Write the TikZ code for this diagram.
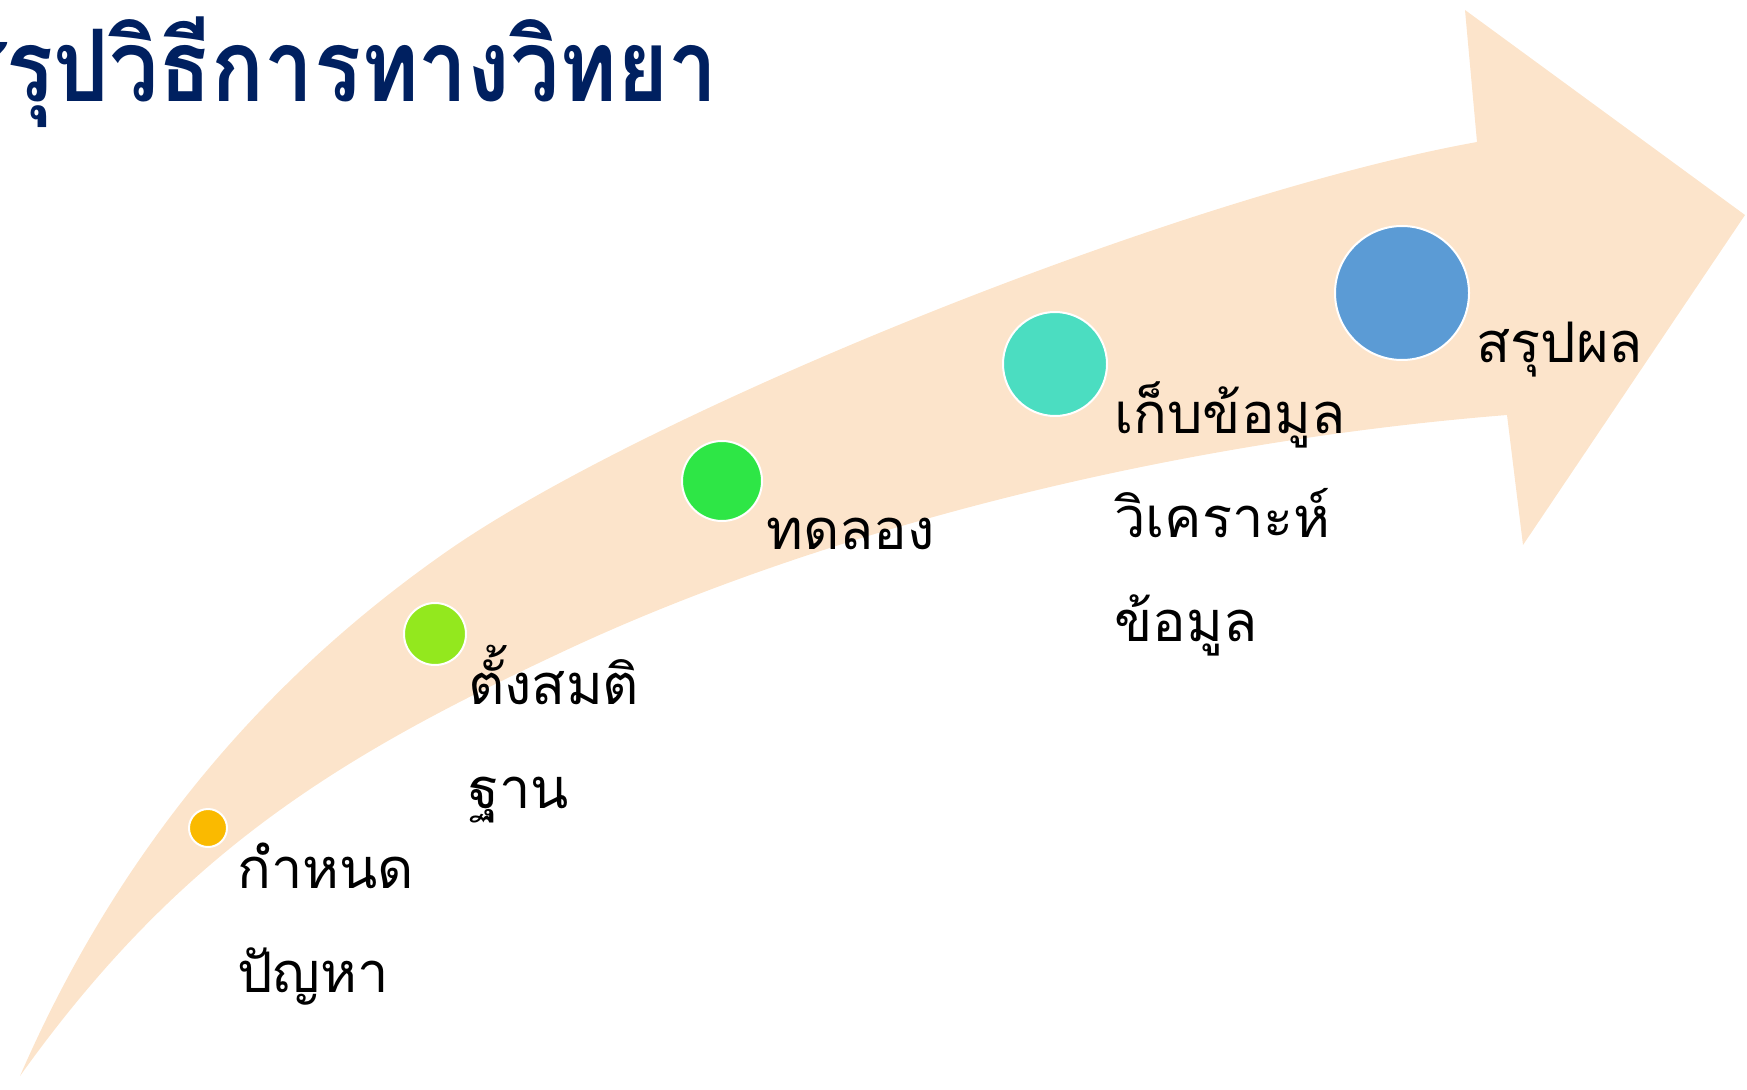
\documentclass[tikz,border=0pt]{standalone}
\usepackage{fontspec}
\newfontfamily\thai[Script=Thai]{Loma}
\definecolor{bandc}{RGB}{252,228,203}
\definecolor{cyel}{RGB}{250,186,0}
\definecolor{clime}{RGB}{147,232,30}
\definecolor{cgrn}{RGB}{46,230,70}
\definecolor{cteal}{RGB}{75,221,193}
\definecolor{cblue}{RGB}{91,155,213}
\definecolor{navy}{RGB}{0,32,96}
\begin{document}
\begin{tikzpicture}[x=1pt,y=-1pt,
  dot/.style={circle, draw=white, line width=2pt, inner sep=0pt, minimum size=#1},
  lbl/.style={font=\thai\fontsize{56}{104}\selectfont, anchor=base west, align=left, inner sep=0pt, text=black},
]
\useasboundingbox (0,0) rectangle (1747,1089);
\clip (0,0) rectangle (1747,1089);
\fill[bandc] (20,1076) .. controls (140,800) and (316,643) .. (446,552)
  .. controls (646,412) and (1177,196) .. (1477,142)
  -- (1465,10) -- (1745,215) -- (1523,545) -- (1507,415)
  .. controls (1157,443) and (810,535) .. (560,653)
  .. controls (340,756) and (180,852) .. (20,1076) -- cycle;
\node[dot=38pt, fill=cyel] (c1) at (208,828) {};
\node[dot=62pt, fill=clime] (c2) at (435,634) {};
\node[dot=80pt, fill=cgrn] (c3) at (722,481) {};
\node[dot=104pt, fill=cteal] (c4) at (1055,364) {};
\node[dot=134pt, fill=cblue] (c5) at (1402,293) {};
\node[lbl] (t1) at (237,992) {กำหนด\\ปัญหา};
\node[lbl] (t2) at (468,808) {ตั้งสมติ\\ฐาน};
\node[lbl] (t3) at (766,549) {ทดลอง};
\node[lbl] (t4) at (1114,641) {เก็บข้อมูล\\วิเคราะห์\\ข้อมูล};
\node[lbl] (t5) at (1476,362) {สรุปผล};
\node[font=\thai\bfseries\fontsize{100}{110}\selectfont, text=navy, anchor=base east, inner sep=0pt, xscale=0.875] (title) at (718,102) {สรุปวิธีการทางวิทยา};
\end{tikzpicture}
\end{document}
